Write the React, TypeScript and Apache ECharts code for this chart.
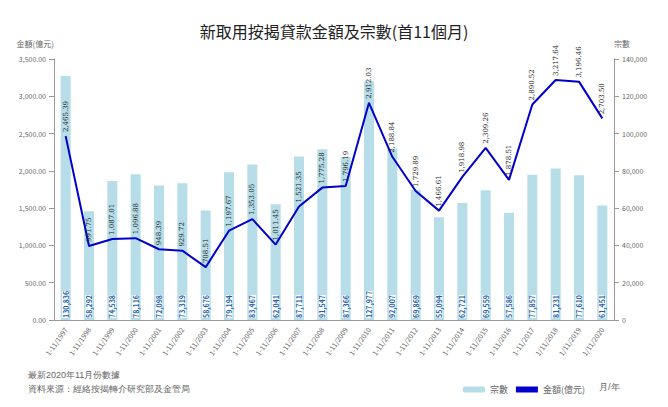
import React, { useRef, useEffect } from "react";
import * as echarts from "echarts";

const years = [
  "1-11/1997", "1-11/1998", "1-11/1999", "1-11/2000", "1-11/2001", "1-11/2002",
  "1-11/2003", "1-11/2004", "1-11/2005", "1-11/2006", "1-11/2007", "1-11/2008",
  "1-11/2009", "1-11/2010", "1-11/2011", "1-11/2012", "1-11/2013", "1-11/2014",
  "1-11/2015", "1-11/2016", "1-11/2017", "1/11/2018", "1/11/2019", "1/11/2020",
];
const cases = [
  130836, 58292, 74538, 78116, 72098, 73319, 58676, 79194, 83467, 62041, 87711, 91547,
  87366, 127977, 92007, 69869, 55094, 62721, 69559, 57586, 77857, 81231, 77610, 61451,
];
const amounts = [
  2465.39, 991.75, 1087.01, 1096.88, 948.39, 929.72, 708.51, 1197.67, 1353.05, 1011.45,
  1521.35, 1775.28, 1796.19, 2912.03, 2188.84, 1729.89, 1466.61, 1918.98, 2309.26,
  1878.51, 2890.52, 3217.64, 3196.46, 2703.5,
];

const fmt2 = (v: number) =>
  v.toLocaleString("en-US", { minimumFractionDigits: 2, maximumFractionDigits: 2 });

const App = () => {
  const chartRef = useRef<HTMLDivElement>(null);

  useEffect(() => {
    const chart = echarts.init(chartRef.current, null, { renderer: "svg" });
    const grey = "#666";
    chart.setOption({
      animation: false,
      textStyle: { fontFamily: "Noto Sans CJK TC" },
      title: {
        text: "新取用按揭貸款金額及宗數(首11個月)",
        left: "center",
        top: 10,
        textStyle: { fontSize: 16, fontWeight: "normal", color: "#222", fontFamily: "Noto Sans CJK TC" },
      },
      legend: {
        right: 70,
        top: 372,
        itemWidth: 22,
        itemHeight: 6,
        textStyle: { fontSize: 9, color: grey },
        data: [{ name: "宗數" }, { name: "金額(億元)", icon: "rect", itemStyle: { color: "#0000cc" } }],
      },
      graphic: [
        { type: "text", left: 20, top: 362, style: { text: "最新2020年11月份數據", fontSize: 9, fill: grey } },
        { type: "text", left: 20, top: 376, style: { text: "資料來源：經絡按揭轉介研究部及金管局", fontSize: 9, fill: grey } },
        { type: "text", left: 591, top: 374, style: { text: "月/年", fontSize: 9, fill: grey } },
      ],
      grid: { left: 46, right: 46, top: 51, bottom: 79 },
      xAxis: {
        type: "category",
        data: years,
        axisLine: { lineStyle: { color: "#999" } },
        axisTick: { show: false },
        axisLabel: { rotate: 55, fontSize: 7, color: grey, interval: 0 },
      },
      yAxis: [
        {
          type: "value",
          name: "金額(億元)",
          nameTextStyle: { fontSize: 8, color: grey, align: "right" },
          nameGap: 12,
          min: 0,
          max: 3500,
          interval: 500,
          axisLine: { show: true, lineStyle: { color: "#999" } },
          axisTick: { show: true },
          splitLine: { show: false },
          axisLabel: { fontSize: 7, color: grey, formatter: (v: number) => fmt2(v) },
        },
        {
          type: "value",
          name: "宗數",
          nameTextStyle: { fontSize: 8, color: grey, align: "left" },
          nameGap: 12,
          min: 0,
          max: 140000,
          interval: 20000,
          axisLine: { show: true, lineStyle: { color: "#999" } },
          axisTick: { show: true },
          splitLine: { show: false },
          axisLabel: { fontSize: 7, color: grey, formatter: (v: number) => v.toLocaleString("en-US") },
        },
      ],
      series: [
        {
          name: "宗數",
          type: "bar",
          yAxisIndex: 1,
          data: cases,
          barWidth: 10,
          itemStyle: { color: "#b7dde8" },
          label: {
            show: true,
            position: "insideBottom",
            rotate: 90,
            align: "left",
            verticalAlign: "middle",
            distance: 2,
            fontSize: 7,
            fontWeight: "bold",
            color: "#1f5fa8",
            backgroundColor: "#fff",
            formatter: (p: any) => p.value.toLocaleString("en-US"),
          },
        },
        {
          name: "金額(億元)",
          type: "line",
          yAxisIndex: 0,
          data: amounts,
          symbol: "circle",
          symbolSize: 0.1,
          showSymbol: true,
          lineStyle: { color: "#0000cc", width: 2 },
          itemStyle: { color: "#0000cc" },
          label: {
            show: true,
            position: "top",
            rotate: 90,
            align: "left",
            verticalAlign: "middle",
            distance: 4,
            fontSize: 7,
            color: "#222",
            fontFamily: "DejaVu Serif",
            formatter: (p: any) => fmt2(p.value),
          },
        },
      ],
    });
    return () => chart.dispose();
  }, []);

  return <div ref={chartRef} style={{ width: 652, height: 391 }} />;
};

export default App;
